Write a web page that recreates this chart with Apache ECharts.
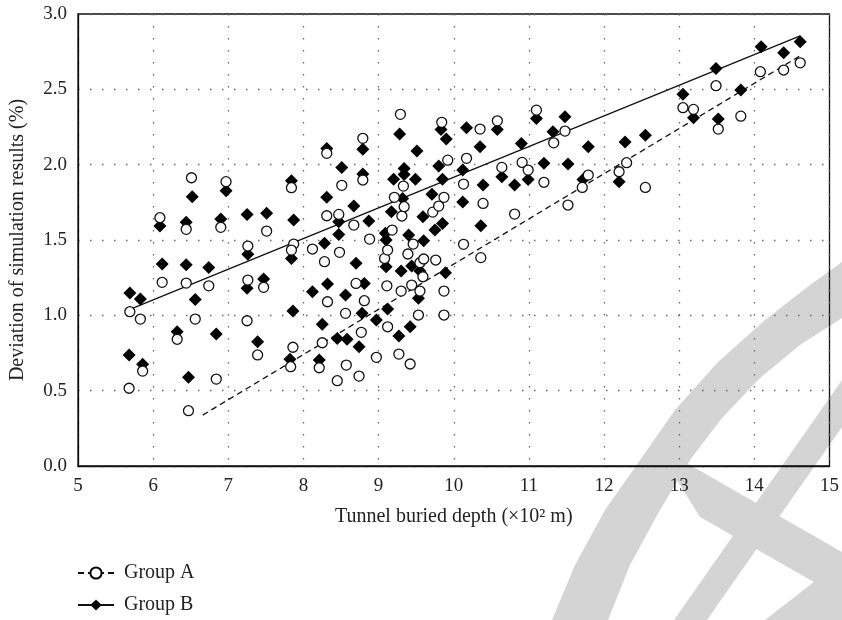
<!DOCTYPE html>
<html>
<head>
<meta charset="utf-8">
<script src="https://cdn.jsdelivr.net/npm/echarts@6/dist/echarts.min.js"></script>
<style>
html,body{margin:0;padding:0;background:#fff;}
#chart{width:842px;height:620px;}
</style>
</head>
<body>
<div id="chart"></div>
<script>
// Group A (open circles): [depth (x10^2 m), deviation (%)]
const groupA = [
[5.68,0.516],[5.69,1.024],[5.86,0.630],[5.83,0.975],[6.09,1.648],[6.12,1.219],[6.32,0.841],
[6.44,1.571],[6.44,1.214],[6.47,0.367],[6.51,1.913],[6.56,0.975],[6.74,1.196],[6.84,0.577],
[6.90,1.584],[6.97,1.887],[7.25,0.964],[7.26,1.460],[7.26,1.234],[7.39,0.737],[7.47,1.186],
[7.51,1.559],[7.83,0.659],[7.86,0.788],[7.84,1.847],[7.87,1.473],[7.84,1.433],[8.12,1.440],
[8.21,0.652],[8.25,0.818],[8.28,1.356],[8.31,2.075],[8.31,1.661],[8.32,1.090],[8.45,0.566],
[8.47,1.670],[8.48,1.418],[8.51,1.863],[8.56,1.013],[8.57,0.670],[8.67,1.599],[8.70,1.212],
[8.74,0.597],[8.77,0.887],[8.79,2.175],[8.79,1.898],[8.81,1.097],[8.88,1.506],[8.97,0.721],
[9.08,1.378],[9.11,1.196],[9.12,1.433],[9.12,0.924],[9.18,1.566],[9.21,1.783],[9.27,0.743],
[9.29,2.334],[9.30,1.161],[9.31,1.659],[9.33,1.858],[9.34,1.721],[9.39,1.407],[9.42,0.677],
[9.44,1.201],[9.46,1.473],[9.53,1.002],[9.55,1.349],[9.55,1.161],[9.59,1.256],[9.60,1.374],
[9.72,1.685],[9.76,1.367],[9.80,1.725],[9.84,2.281],[9.87,1.783],[9.87,1.161],[9.87,1.002],
[9.92,2.030],[10.13,1.871],[10.13,1.471],[10.17,2.042],[10.35,2.236],[10.36,1.383],[10.39,1.743],
[10.58,2.291],[10.64,1.982],[10.81,1.672],[10.91,2.015],[10.99,1.964],[11.10,2.362],[11.20,1.883],
[11.33,2.145],[11.48,2.223],[11.52,1.732],[11.71,1.849],[11.79,1.931],[12.20,1.953],[12.30,2.013],
[12.55,1.849],[13.05,2.378],[13.19,2.367],[13.49,2.524],[13.52,2.236],[13.82,2.322],[14.08,2.617],
[14.39,2.628],[14.61,2.676]
];
// Group B (filled diamonds)
const groupB = [
[5.68,0.737],[5.69,1.148],[5.83,1.108],[5.86,0.675],[6.09,1.593],[6.12,1.340],[6.32,0.891],
[6.44,1.617],[6.44,1.336],[6.47,0.589],[6.52,1.787],[6.56,1.105],[6.74,1.318],[6.84,0.876],
[6.90,1.639],[6.97,1.827],[7.25,1.670],[7.26,1.405],[7.25,1.179],[7.39,0.825],[7.47,1.241],
[7.51,1.677],[7.82,0.708],[7.84,1.893],[7.84,1.378],[7.86,1.029],[7.87,1.632],[8.12,1.157],
[8.21,0.703],[8.25,0.940],[8.28,1.478],[8.31,2.108],[8.31,1.783],[8.32,1.208],[8.45,0.847],
[8.47,1.621],[8.47,1.537],[8.51,1.982],[8.56,1.135],[8.58,0.841],[8.67,1.725],[8.70,1.345],
[8.74,0.792],[8.78,1.013],[8.79,2.103],[8.79,1.938],[8.81,1.212],[8.87,1.626],[8.97,0.969],
[9.09,1.544],[9.10,1.500],[9.10,1.323],[9.12,1.042],[9.17,1.688],[9.20,1.904],[9.27,0.863],
[9.28,2.203],[9.30,1.294],[9.32,1.776],[9.34,1.975],[9.34,1.935],[9.40,1.533],[9.42,0.924],
[9.44,1.327],[9.49,1.904],[9.51,2.090],[9.53,1.113],[9.55,1.294],[9.59,1.654],[9.60,1.495],
[9.71,1.803],[9.75,1.566],[9.80,1.991],[9.83,2.234],[9.85,1.904],[9.85,1.610],[9.89,1.283],
[9.90,2.170],[10.12,1.964],[10.12,1.753],[10.17,2.245],[10.35,2.119],[10.36,1.595],[10.39,1.865],
[10.58,2.234],[10.64,1.920],[10.81,1.865],[10.90,2.141],[10.99,1.902],[11.10,2.307],[11.20,2.009],
[11.32,2.218],[11.48,2.318],[11.52,2.004],[11.72,1.902],[11.79,2.119],[12.20,1.887],[12.28,2.150],
[12.55,2.196],[13.05,2.468],[13.19,2.311],[13.49,2.639],[13.52,2.303],[13.82,2.495],[14.09,2.783],
[14.39,2.743],[14.61,2.816]
];
// Fitted trend lines (end points)
const fitA = [[6.66,0.338],[14.61,2.723]];
const fitB = [[5.69,1.040],[14.61,2.855]];
const seriesNames = ['Group A','Group B'];
const xTicks = [5,6,7,8,9,10,11,12,13,14,15];
const yTicks = [0,0.5,1,1.5,2,2.5,3];

const FONT = '"Liberation Serif","DejaVu Serif",serif';
const chart = echarts.init(document.getElementById('chart'), null, {renderer:'canvas'});
const wm = '#d4d4d4';
chart.setOption({
  backgroundColor:'#fff',
  animation:false,
  grid:{left:77,right:10,top:14,bottom:154,show:true,borderColor:'#111',borderWidth:1.3,backgroundColor:'transparent'},
  graphic:[
    {type:'polygon',z:-1,silent:true,shape:{points:[[842,262],[842,318],[800,345],[760,378],[722,418],[690,460],[660,510],[630,565],[608,620],[552,620],[575,565],[605,510],[638,463],[675,410],[718,362],[765,320],[810,285]]},style:{fill:wm}},
    {type:'polygon',z:-1,silent:true,shape:{points:[[655,445],[842,552],[842,598],[700,517]]},style:{fill:wm}},
    {type:'polygon',z:-1,silent:true,shape:{points:[[842,380],[842,427],[707,620],[674,620]]},style:{fill:wm}},
    {type:'polygon',z:-1,silent:true,shape:{points:[[765,620],[842,620],[842,560]]},style:{fill:wm}}
  ],
  legend:{
    left:77, top:563, orient:'vertical', itemWidth:36, itemHeight:14, itemGap:12, padding:0,
    height:60,
    selectedMode:false,
    data:seriesNames,
    textStyle:{fontFamily:FONT,fontSize:20,color:'#222',lineHeight:20,padding:[0,0,0,5]}
  },
  xAxis:{
    type:'value', min:xTicks[0], max:xTicks[xTicks.length-1], interval:1,
    name:'Tunnel buried depth (×10² m)', nameLocation:'middle', nameGap:41,
    nameTextStyle:{fontFamily:FONT,fontSize:20,color:'#222'},
    axisLine:{show:true,onZero:false,lineStyle:{color:'#111',width:1.3}},
    axisTick:{show:false},
    axisLabel:{fontFamily:FONT,fontSize:19,color:'#222',margin:11},
    splitLine:{show:true,lineStyle:{color:'#666',width:1.3,type:[1.5,10.5]}}
  },
  yAxis:{
    type:'value', min:yTicks[0], max:yTicks[yTicks.length-1], interval:0.5,
    name:'Deviation of simulation results (%)', nameLocation:'middle', nameGap:50,
    nameTextStyle:{fontFamily:FONT,fontSize:20,color:'#222'},
    axisLine:{show:true,onZero:false,lineStyle:{color:'#111',width:1.3}},
    axisTick:{show:false},
    axisLabel:{fontFamily:FONT,fontSize:19,color:'#222',margin:11,formatter:v=>v.toFixed(1)},
    splitLine:{show:true,lineStyle:{color:'#666',width:1.3,type:[1.5,10.5]}}
  },
  series:[
    {name:seriesNames[0],type:'line',data:fitA,symbol:'emptyCircle',showSymbol:false,z:2,
     itemStyle:{color:'#000'},lineStyle:{color:'#111',width:1.3,type:[6,4]},silent:true},
    {name:seriesNames[1],type:'line',data:fitB,symbol:'diamond',showSymbol:false,z:2,
     itemStyle:{color:'#000'},lineStyle:{color:'#111',width:1.3,type:'solid'},silent:true},
    {name:seriesNames[1],type:'scatter',data:groupB,symbol:'diamond',symbolSize:13,z:3,
     itemStyle:{color:'#000',opacity:1}},
    {name:seriesNames[0],type:'scatter',data:groupA,symbol:'circle',symbolSize:10,z:4,
     itemStyle:{color:'#fff',borderColor:'#111',borderWidth:1.3,opacity:1}}
  ]
});
</script>
</body>
</html>
